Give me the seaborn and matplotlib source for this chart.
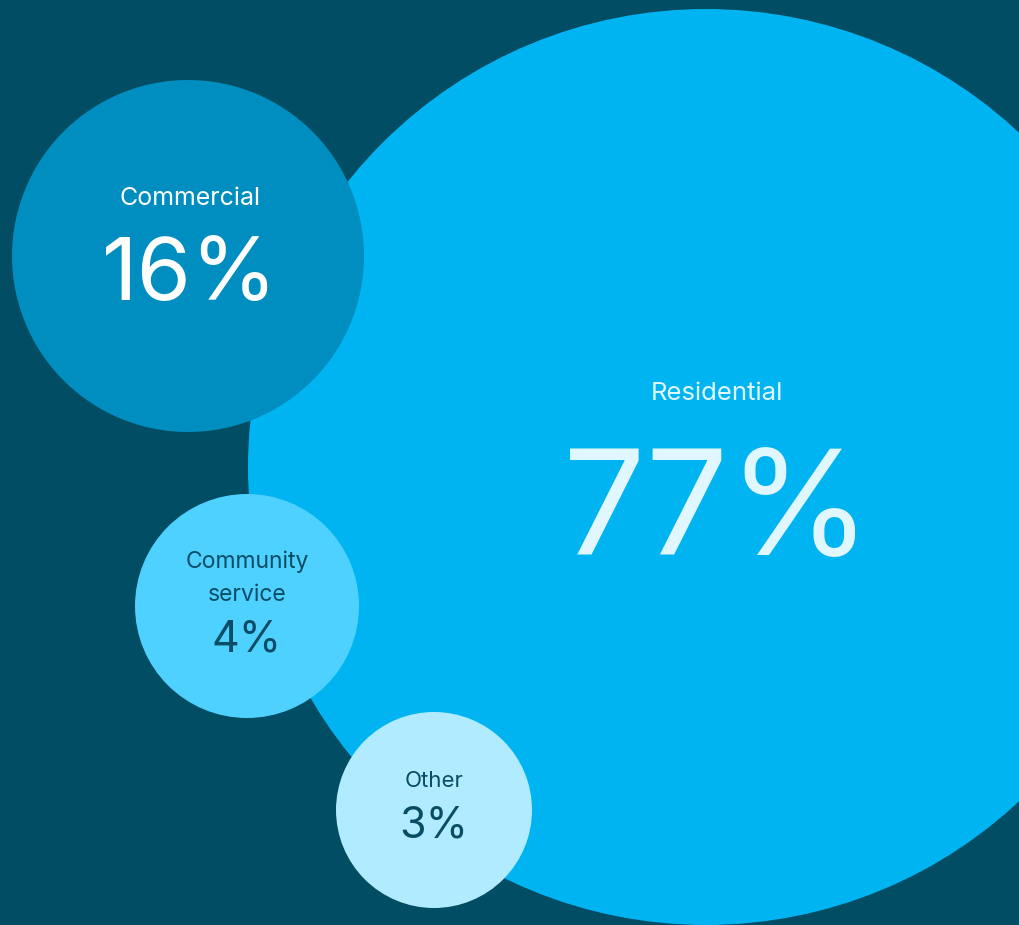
import matplotlib
matplotlib.use("Agg")
import matplotlib.pyplot as plt
import seaborn as sns
import pandas as pd

# Share of total by sector
categories = ["Residential", "Commercial", "Community service", "Other"]
shares = [77, 16, 4, 3]
label_lines = [["Residential"], ["Commercial"], ["Community", "service"], ["Other"]]

# Bubble layout (pixel space of the canvas)
centers_x = [706, 188, 247, 434]
centers_y = [467, 256, 606, 810]
radii = [458, 176, 112, 98]

palette = {
    "Residential": "#00B4F1",
    "Commercial": "#008DBF",
    "Community service": "#4FD1FF",
    "Other": "#B1EBFF",
}
text_colors = {
    "Residential": "#E1F7FF",
    "Commercial": "#FFFFFF",
    "Community service": "#084C66",
    "Other": "#084C66",
}
bg = "#014D64"

W, H, DPI = 1020, 925, 100
sns.set_theme(style="white")
plt.rcParams["font.family"] = ["Inter", "DejaVu Sans"]

fig = plt.figure(figsize=(W / DPI, H / DPI), dpi=DPI, facecolor=bg)
ax = fig.add_axes([0, 0, 1, 1])
ax.set_facecolor(bg)

df = pd.DataFrame({
    "category": categories,
    "share": shares,
    "x": centers_x,
    "y": centers_y,
    "r": radii,
})
# marker area in points^2 from radius in pixels
pt_per_px = 72 / DPI
area = {r: (2 * r * pt_per_px) ** 2 for r in radii}

sns.scatterplot(
    data=df, x="x", y="y", hue="category", palette=palette,
    size="r", sizes=area, linewidth=0, legend=False, ax=ax, zorder=2,
)

ax.set_xlim(0, W)
ax.set_ylim(H, 0)
ax.set_axis_off()

# label text: name baselines/sizes, value baseline/size
name_baselines = [[400], [205], [568, 601], [787]]
name_sizes = [18.5, 18, 16.5, 16]
value_baselines = [555, 300, 652, 838]
value_sizes = [105, 63, 31, 31]
text_x = [717, 190, 247, 434]

for i, cat in enumerate(categories):
    for line, yb in zip(label_lines[i], name_baselines[i]):
        ax.text(text_x[i], yb, line, ha="center", va="baseline",
                fontsize=name_sizes[i], color=text_colors[cat], zorder=3)
    ax.text(text_x[i], value_baselines[i], f"{shares[i]}%", ha="center",
            va="baseline", fontsize=value_sizes[i], color=text_colors[cat],
            zorder=3)

fig.savefig("out.png", dpi=DPI, facecolor=bg)
